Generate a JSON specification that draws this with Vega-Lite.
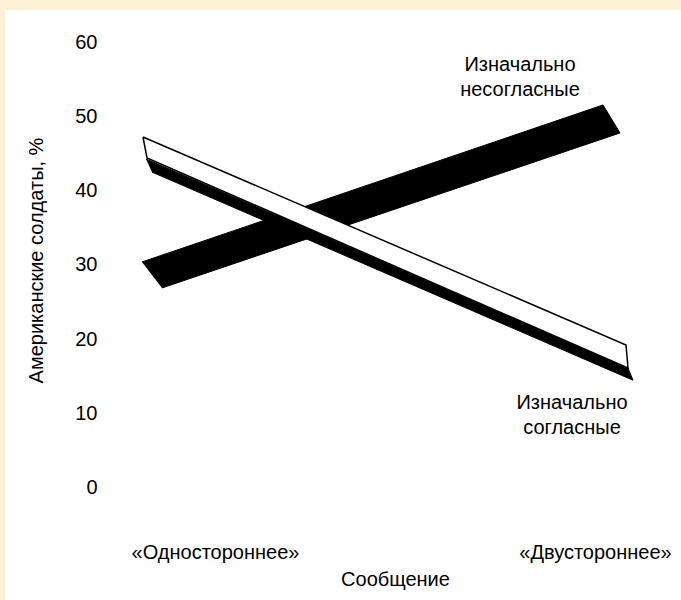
{
  "$schema": "https://vega.github.io/schema/vega-lite/v6.json",
  "width": 676,
  "height": 590,
  "padding": {"left": 5, "top": 10, "right": 0, "bottom": 0},
  "autosize": {"type": "none"},
  "background": "#fcf0d6",
  "config": {
    "view": {"fill": "white", "stroke": null},
    "font": "Liberation Sans"
  },
  "datasets": {
    "disagree": [
      {"i": 0, "x": -0.1921, "y": 30.41},
      {"i": 1, "x": 1.0211, "y": 51.53},
      {"i": 2, "x": 1.0658, "y": 47.76},
      {"i": 3, "x": -0.1395, "y": 26.91}
    ],
    "agreeShadow": [
      {"i": 0, "x": -0.1816, "y": 44.26},
      {"i": 1, "x": 1.0868, "y": 16.14},
      {"i": 2, "x": 1.1, "y": 14.5},
      {"i": 3, "x": -0.1658, "y": 42.5}
    ],
    "agreeFace": [
      {"i": 0, "x": -0.1895, "y": 47.22},
      {"i": 1, "x": 1.0816, "y": 19.24},
      {"i": 2, "x": 1.0868, "y": 16.14},
      {"i": 3, "x": -0.1789, "y": 44.4},
      {"i": 4, "x": -0.1895, "y": 47.22}
    ],
    "labels": [
      {"label": "Изначально\nнесогласные", "x": 0.8026, "y": 56.9},
      {"label": "Изначально\nсогласные", "x": 0.9395, "y": 11.4}
    ]
  },
  "encoding": {
    "x": {
      "field": "x",
      "type": "quantitative",
      "scale": {"domain": [-0.5526, 1.2263], "nice": false, "zero": false},
      "axis": {
        "values": [0, 1],
        "labelExpr": "datum.value == 0 ? '«Одностороннее»' : '«Двустороннее»'",
        "title": "Сообщение",
        "domain": false,
        "ticks": false,
        "grid": false,
        "offset": -62,
        "labelPadding": 4,
        "labelFontSize": 20,
        "labelColor": "black",
        "labelOverlap": false,
        "labelFlush": false,
        "titleFontSize": 20,
        "titleFontWeight": "normal",
        "titleColor": "black",
        "titlePadding": 7,
        "titleX": 390
      }
    },
    "y": {
      "field": "y",
      "type": "quantitative",
      "scale": {"domain": [-15.068, 64.305], "nice": false, "zero": false},
      "axis": {
        "values": [0, 10, 20, 30, 40, 50, 60],
        "title": "Американские солдаты, %",
        "domain": false,
        "ticks": false,
        "grid": false,
        "offset": -95,
        "labelPadding": 3,
        "labelFontSize": 20,
        "labelColor": "black",
        "titleFontSize": 20,
        "titleFontWeight": "normal",
        "titleColor": "black",
        "titleX": -64,
        "titleY": 250,
        "titleBaseline": "middle"
      }
    }
  },
  "layer": [
    {
      "data": {"name": "disagree"},
      "mark": {"type": "line", "fill": "black", "stroke": "black", "strokeWidth": 1},
      "encoding": {"order": {"field": "i", "type": "quantitative"}}
    },
    {
      "data": {"name": "agreeShadow"},
      "mark": {"type": "line", "fill": "black", "stroke": "black", "strokeWidth": 1},
      "encoding": {"order": {"field": "i", "type": "quantitative"}}
    },
    {
      "data": {"name": "agreeFace"},
      "mark": {"type": "line", "fill": "white", "stroke": "black", "strokeWidth": 1.5},
      "encoding": {"order": {"field": "i", "type": "quantitative"}}
    },
    {
      "data": {"name": "labels"},
      "mark": {"type": "text", "align": "center", "baseline": "middle", "fontSize": 20, "lineHeight": 25, "lineBreak": "\n", "color": "black"},
      "encoding": {"text": {"field": "label", "type": "nominal"}}
    }
  ]
}
